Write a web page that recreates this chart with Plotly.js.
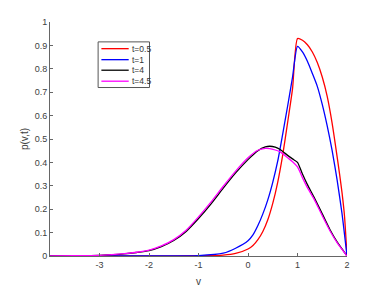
<!DOCTYPE html>
<html>
<head>
<meta charset="utf-8">
<script src="https://cdn.plot.ly/plotly-3.0.1.min.js"></script>
<style>html,body{margin:0;padding:0;background:#fff;}#chart{width:384px;height:288px;}</style>
</head>
<body>
<div id="chart"></div>
<script>
// t = 0.5
const vRed = [-4,-3,-2,-1,-0.5,-0.25,0,0.1,0.2,0.3,0.4,0.5,0.6,0.7,0.8,0.9,1.0,1.1,1.2,1.3,1.4,1.5,1.6,1.7,1.8,1.85,1.9,1.95,2];
const pRed = [0,0,0,0.001,0.004,0.011,0.03,0.045,0.07,0.105,0.155,0.225,0.315,0.43,0.57,0.715,0.929,0.922,0.903,0.872,0.827,0.765,0.682,0.567,0.425,0.35,0.27,0.17,0];
// t = 1
const vBlue = [-4,-2,-1,-0.5,-0.25,0,0.1,0.2,0.3,0.4,0.5,0.6,0.7,0.8,0.9,1.0,1.1,1.2,1.3,1.4,1.5,1.6,1.7,1.8,1.9,2];
const pBlue = [0,0,0.002,0.012,0.033,0.065,0.09,0.13,0.18,0.24,0.315,0.405,0.52,0.64,0.765,0.896,0.872,0.832,0.78,0.725,0.648,0.556,0.45,0.325,0.18,0];
// t = 4 and t = 4.5
const vLate = [-4,-3.5,-3,-2.5,-2.25,-2,-1.75,-1.5,-1.25,-1,-0.75,-0.5,-0.25,0,0.2,0.35,0.44,0.55,0.65,0.8,0.9,1.0,1.1,1.2,1.33,1.5,1.66,1.8,1.9,2];
const pBlack = [0,0.001,0.003,0.009,0.015,0.023,0.04,0.066,0.105,0.16,0.222,0.29,0.355,0.412,0.45,0.466,0.469,0.465,0.455,0.43,0.415,0.40,0.35,0.305,0.253,0.18,0.111,0.06,0.03,0];
const pMagenta = [0,0.001,0.003,0.01,0.016,0.025,0.043,0.07,0.11,0.167,0.23,0.298,0.363,0.42,0.452,0.46,0.459,0.453,0.445,0.42,0.403,0.381,0.335,0.292,0.245,0.172,0.106,0.057,0.028,0];

const names = ['t=0.5','t=1','t=4','t=4.5'];
const colors = ['#ff0000','#0000ff','#000000','#ff00ff'];
const xs = [vRed, vBlue, vLate, vLate];
const ys = [pRed, pBlue, pBlack, pMagenta];

const xTicks = [-3,-2,-1,0,1,2];
const yTicks = [0,0.1,0.2,0.3,0.4,0.5,0.6,0.7,0.8,0.9,1];

const traces = names.map((n,i)=>({
  x: xs[i], y: ys[i], name: n, type:'scatter', mode:'lines',
  line:{color:colors[i], width:1.3, shape:'spline', smoothing:0.6}, showlegend:false, hoverinfo:'skip'
}));

// custom compact legend (MATLAB style)
const lx0 = 0.162, lx1 = 0.335, ly0 = 0.72, ly1 = 0.915;
const rowY = [0.886, 0.839, 0.794, 0.747];
const shapes = [{type:'rect', xref:'paper', yref:'paper', x0:lx0, x1:lx1, y0:ly0, y1:ly1,
  line:{color:'#555555', width:1}, fillcolor:'#ffffff'}];
const annotations = [];
names.forEach((n,i)=>{
  shapes.push({type:'line', xref:'paper', yref:'paper', x0:0.173, x1:0.265, y0:rowY[i], y1:rowY[i],
    line:{color:colors[i], width:1.3}});
  annotations.push({xref:'paper', yref:'paper', x:0.27, y:rowY[i], text:n, showarrow:false,
    xanchor:'left', yanchor:'middle', font:{family:'Liberation Sans, Arial, sans-serif', size:8.5, color:'#333333'}});
});

const axisCommon = {
  showgrid:false, zeroline:false, showline:true, linecolor:'#666666', linewidth:1,
  ticks:'inside', ticklen:3, tickcolor:'#666666', mirror:false,
  tickfont:{family:'Liberation Sans, Arial, sans-serif', size:9, color:'#404040'}
};

const layout = {
  width:384, height:288,
  margin:{l:49.5, r:37, t:22, b:32},
  paper_bgcolor:'#ffffff', plot_bgcolor:'#ffffff',
  showlegend:false,
  xaxis: Object.assign({}, axisCommon, {
    range:[-4,2], tickmode:'array', tickvals:xTicks, ticktext:xTicks.map(String),
    title:{text:'v', standoff:9, font:{family:'Liberation Sans, Arial, sans-serif', size:10, color:'#404040'}}
  }),
  yaxis: Object.assign({}, axisCommon, {
    range:[0,1], tickmode:'array', tickvals:yTicks, ticktext:yTicks.map(String),
    title:{text:'p(v,t)', standoff:4, font:{family:'Liberation Sans, Arial, sans-serif', size:10, color:'#404040'}}
  }),
  shapes: shapes,
  annotations: annotations
};

Plotly.newPlot('chart', traces, layout, {staticPlot:true, displayModeBar:false});
</script>
</body>
</html>
